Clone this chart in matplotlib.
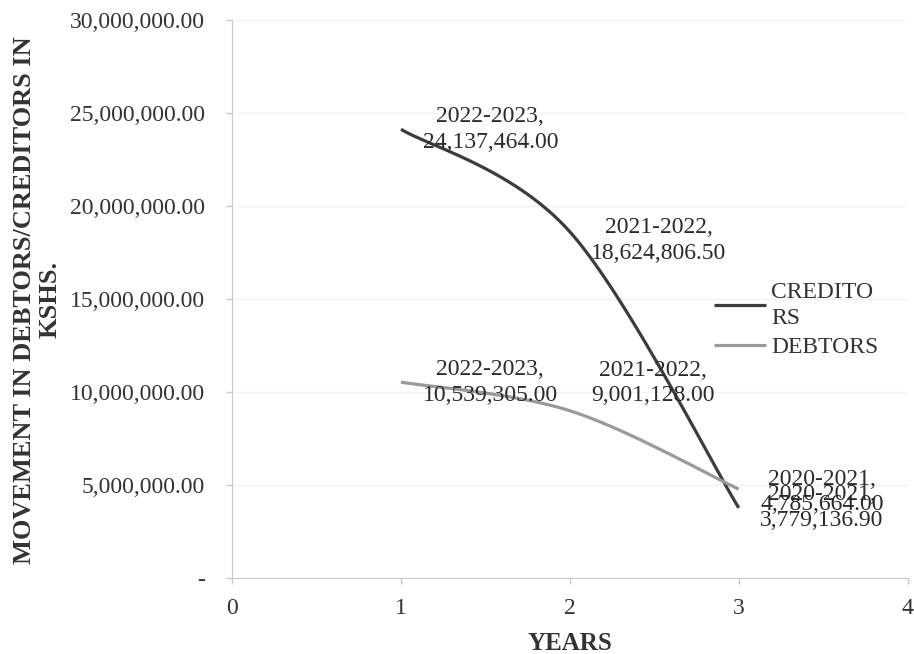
import numpy as np
import matplotlib
matplotlib.use("Agg")
import matplotlib.pyplot as plt
from matplotlib.ticker import FuncFormatter

plt.rcParams['font.family'] = ['Liberation Serif', 'DejaVu Serif']

# ---- data ----
x_vals = [1, 2, 3]
periods = ["2022-2023", "2021-2022", "2020-2021"]
creditors = [24137464.00, 18624806.50, 3779136.90]
debtors = [10539305.00, 9001128.00, 4785664.00]
series_names = ["CREDITO\nRS", "DEBTORS"]
y_ticks = [0, 5000000, 10000000, 15000000, 20000000, 25000000, 30000000]
x_ticks = [0, 1, 2, 3, 4]


def smooth(xs, ys, n=60):
    """Excel-like smoothed line (Catmull-Rom Bezier through the points)."""
    P = np.column_stack([xs, ys]).astype(float)
    m = len(P)
    out = []
    for i in range(m - 1):
        p0 = P[i - 1] if i > 0 else P[i]
        p1 = P[i]
        p2 = P[i + 1]
        p3 = P[i + 2] if i + 2 < m else P[i + 1]
        c1 = p1 + (p2 - p0) / 6.0
        c2 = p2 - (p3 - p1) / 6.0
        t = np.linspace(0, 1, n)[:, None]
        seg = ((1 - t) ** 3) * p1 + 3 * ((1 - t) ** 2) * t * c1 + 3 * (1 - t) * t ** 2 * c2 + t ** 3 * p2
        out.append(seg if i == 0 else seg[1:])
    out = np.vstack(out)
    return out[:, 0], out[:, 1]


fig = plt.figure(figsize=(9.14, 6.54), dpi=100)
ax = fig.add_axes([0.254, 0.116, 0.739, 0.853])

cred_color = "#3c3c3c"
debt_color = "#9a9a9a"

sx, sy = smooth(x_vals, creditors)
ax.plot(sx, sy, color=cred_color, lw=2.3, label=series_names[0], solid_capstyle='butt')
sx, sy = smooth(x_vals, debtors)
ax.plot(sx, sy, color=debt_color, lw=2.3, label=series_names[1], solid_capstyle='butt')

fmt = lambda v: f"{v:,.2f}"
label_fs = 17
# vertical offsets (points) for data labels
cred_dy = [0, -6, 0]
debt_dy = [0, 20, -2]
for i, x in enumerate(x_vals):
    ax.annotate(f"{periods[i]},\n{fmt(creditors[i])}", (x, creditors[i]),
                xytext=(15.5, cred_dy[i]), textcoords='offset points',
                ha='left', va='center', multialignment='center',
                fontsize=label_fs, color='#2a2a2a', linespacing=1.3)
    ax.annotate(f"{periods[i]},\n{fmt(debtors[i])}", (x, debtors[i]),
                xytext=(15.5, debt_dy[i]), textcoords='offset points',
                ha='left', va='center', multialignment='center',
                fontsize=label_fs, color='#2a2a2a', linespacing=1.3)

ax.set_xlim(0, 4)
ax.set_ylim(0, 30000000)
ax.set_xticks(x_ticks)
ax.set_yticks(y_ticks)
ax.yaxis.set_major_formatter(FuncFormatter(lambda v, p: "-" if v == 0 else f"{v:,.2f}"))
ax.tick_params(axis='both', labelsize=17, colors='#c8c8d6', labelcolor='#333333',
               length=4, width=1)
ax.tick_params(axis='y', pad=15.5)
ax.tick_params(axis='x', pad=10)
ax.grid(axis='y', color='#f2f2f2', lw=1)
ax.set_axisbelow(True)
for s in ['top', 'right']:
    ax.spines[s].set_visible(False)
for s in ['left', 'bottom']:
    ax.spines[s].set_color('#c8c8d6')

ax.set_xlabel("YEARS", fontsize=18, fontweight='bold', color='#333333', labelpad=10)
fig.text(37 / 914, 1 - 300 / 654, "MOVEMENT IN DEBTORS/CREDITORS IN\nKSHS.",
         rotation=90, ha='center', va='center', multialignment='center',
         fontsize=19, fontweight='bold', color='#333333', linespacing=1.15)

leg = ax.legend(loc='upper left', bbox_to_anchor=(0.70, 0.548), frameon=False,
                fontsize=17, handlelength=2.2, handletextpad=0.2, borderaxespad=0,
                labelspacing=0.35, labelcolor='#333333')
for t in leg.get_texts():
    t.set_linespacing(1.3)

fig.savefig("out.png", dpi=100)
